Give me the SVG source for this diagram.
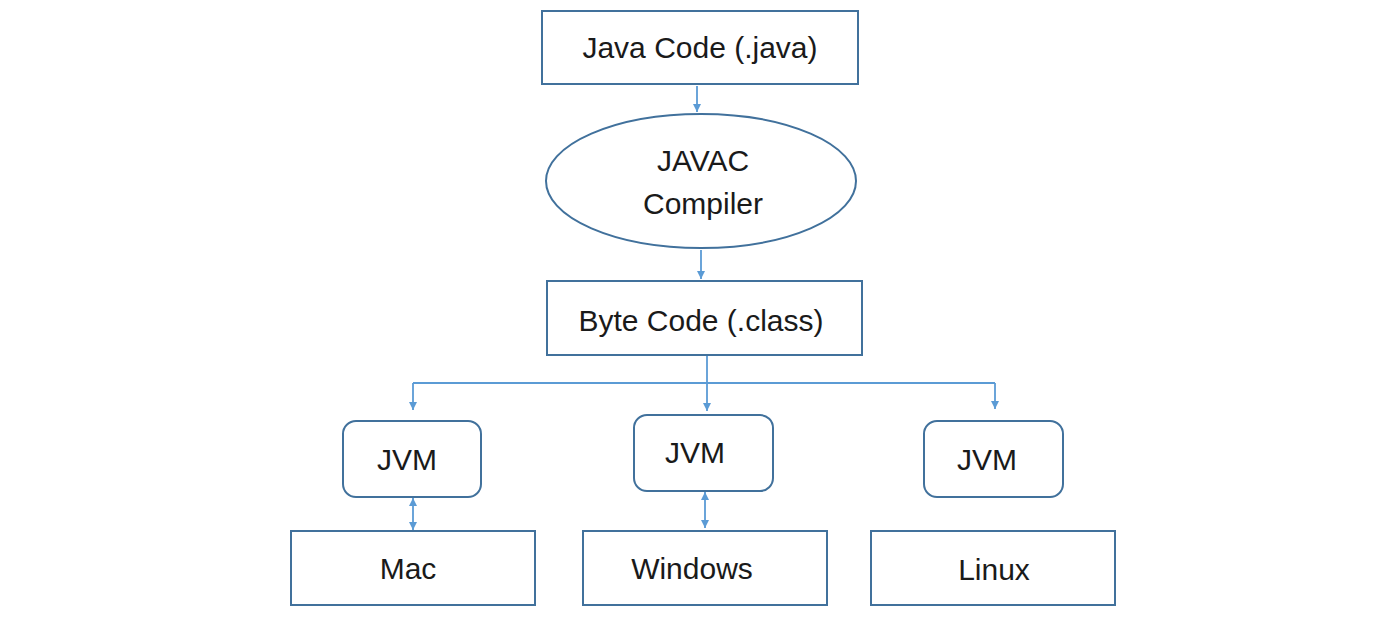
<svg xmlns="http://www.w3.org/2000/svg" width="1400" height="620" viewBox="0 0 1400 620">
<style>
.box{fill:#fff;stroke:#41719C;stroke-width:2}
.lbl{font-family:"Liberation Sans",Arial,sans-serif;font-size:30px;fill:#1a1a1a;text-anchor:middle}
.con{fill:none;stroke:#5B9BD5;stroke-width:1.8}
</style>
<defs>
<marker id="ah" viewBox="0 0 10 10" refX="10" refY="5" markerWidth="8" markerHeight="8" markerUnits="userSpaceOnUse" orient="auto-start-reverse">
<path d="M0,0 L10,5 L0,10 z" fill="#5B9BD5"/>
</marker>
</defs>
<rect width="1400" height="620" fill="#fff"/>
<g id="connectors">
<path class="con" d="M697,86 V112" marker-end="url(#ah)"/>
<path class="con" d="M701,250 V279" marker-end="url(#ah)"/>
<path class="con" d="M707,355 V411" marker-end="url(#ah)"/>
<path class="con" d="M413,383 H995"/>
<path class="con" d="M413,383 V410" marker-end="url(#ah)"/>
<path class="con" d="M995,383 V409" marker-end="url(#ah)"/>
<path class="con" d="M413,498 V530" marker-start="url(#ah)" marker-end="url(#ah)"/>
<path class="con" d="M705,492 V528" marker-start="url(#ah)" marker-end="url(#ah)"/>
</g>
<g id="java-code">
<rect class="box" x="542" y="11" width="316" height="73"/>
<text class="lbl" x="700" y="58">Java Code (.java)</text>
</g>
<g id="javac">
<ellipse class="box" cx="701" cy="181" rx="155" ry="67"/>
<text class="lbl" x="703" y="171">JAVAC</text>
<text class="lbl" x="703" y="214">Compiler</text>
</g>
<g id="byte-code">
<rect class="box" x="547" y="281" width="315" height="74"/>
<text class="lbl" x="701" y="331">Byte Code (.class)</text>
</g>
<g id="jvm-mac">
<rect class="box" x="343" y="421" width="138" height="76" rx="13"/>
<text class="lbl" x="407" y="470">JVM</text>
</g>
<g id="jvm-windows">
<rect class="box" x="634" y="415" width="139" height="76" rx="13"/>
<text class="lbl" x="695" y="463">JVM</text>
</g>
<g id="jvm-linux">
<rect class="box" x="924" y="421" width="139" height="76" rx="13"/>
<text class="lbl" x="987" y="470">JVM</text>
</g>
<g id="mac">
<rect class="box" x="291" y="531" width="244" height="74"/>
<text class="lbl" x="408" y="579">Mac</text>
</g>
<g id="windows">
<rect class="box" x="583" y="531" width="244" height="74"/>
<text class="lbl" x="692" y="579">Windows</text>
</g>
<g id="linux">
<rect class="box" x="871" y="531" width="244" height="74"/>
<text class="lbl" x="994" y="580">Linux</text>
</g>
</svg>
